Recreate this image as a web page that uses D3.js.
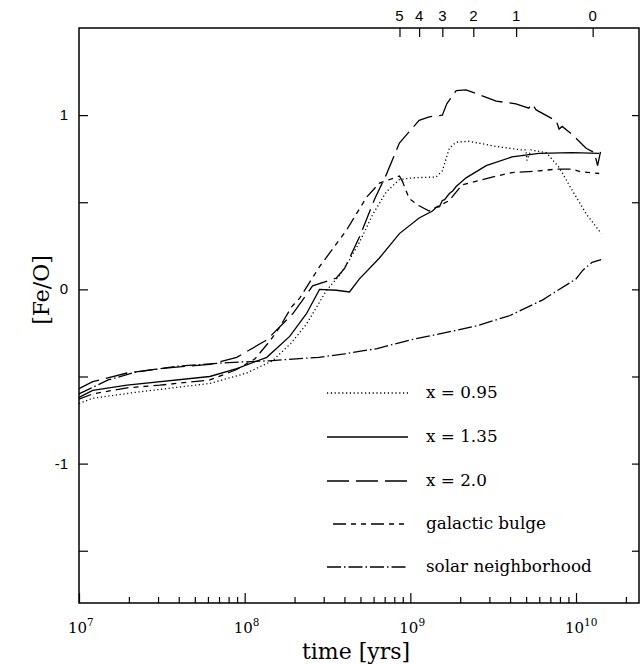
<!DOCTYPE html>
<html>
<head>
<meta charset="utf-8">
<script src="https://cdn.jsdelivr.net/npm/d3@7"></script>
<style>
  body { margin: 0; background: #fff; }
  .frame { fill: none; stroke: #000; stroke-width: 1.5; }
  .axis path { display: none; }
  .axis line { stroke: #000; stroke-width: 1.2; }
  .curve { fill: none; stroke: #000; stroke-width: 1.3; }
</style>
</head>
<body>
<svg id="chart" width="642" height="665"></svg>
<script>
// x = 0.95 (dotted)
var tDot = [1e7, 1.21e7, 2.23e7, 6.16e7, 1.03e8, 1.47e8, 1.9e8, 2.36e8, 3.12e8, 3.74e8, 4.29e8, 4.93e8, 5.93e8, 7.17e8, 8.59e8, 1.03e9, 1.43e9, 1.56e9, 1.72e9, 1.89e9, 2.26e9, 3.3e9, 4.71e9, 4.98e9, 5.05e9, 5.34e9, 6.61e9, 7.9e9, 9.46e9, 1.15e10, 1.42e10];
var vDot = [-0.655, -0.625, -0.59, -0.54, -0.48, -0.41, -0.31, -0.20, -0.005, 0.08, 0.17, 0.27, 0.43, 0.56, 0.63, 0.64, 0.645, 0.68, 0.81, 0.845, 0.85, 0.82, 0.80, 0.80, 0.74, 0.80, 0.785, 0.70, 0.57, 0.435, 0.32];

// x = 1.35 (solid)
var tSolid = [1e7, 1.21e7, 1.95e7, 6.16e7, 8.96e7, 1.36e8, 1.87e8, 2.36e8, 2.83e8, 3.58e8, 4.29e8, 4.93e8, 6.51e8, 8.59e8, 1.13e9, 1.36e9, 1.43e9, 1.5e9, 1.56e9, 1.61e9, 1.72e9, 1.8e9, 1.89e9, 2.17e9, 2.87e9, 4.11e9, 5.98e9, 9.46e9, 1.38e10];
var vSolid = [-0.62, -0.58, -0.55, -0.50, -0.455, -0.39, -0.27, -0.14, 0.0, -0.005, -0.015, 0.06, 0.18, 0.32, 0.41, 0.45, 0.47, 0.475, 0.51, 0.515, 0.55, 0.565, 0.59, 0.64, 0.71, 0.76, 0.78, 0.785, 0.78];

// x = 2.0 (long dash)
var tLong = [1e7, 1.21e7, 1.95e7, 3.07e7, 6.16e7, 8.96e7, 1.36e8, 1.95e8, 2.36e8, 2.57e8, 3.58e8, 4.01e8, 4.93e8, 6.1e8, 7.17e8, 8.59e8, 1.13e9, 1.3e9, 1.56e9, 1.66e9, 1.89e9, 2.17e9, 3.3e9, 4.34e9, 5.19e9, 5.41e9, 5.75e9, 7.17e9, 7.59e9, 7.9e9, 8.25e9, 9.46e9, 1.15e10, 1.29e10, 1.35e10, 1.42e10];
var vLong = [-0.57, -0.53, -0.48, -0.455, -0.43, -0.39, -0.29, -0.14, -0.03, 0.02, 0.065, 0.12, 0.30, 0.52, 0.66, 0.84, 0.97, 0.99, 1.0, 1.065, 1.14, 1.145, 1.08, 1.065, 1.04, 1.065, 1.03, 0.98, 0.97, 0.92, 0.935, 0.89, 0.81, 0.785, 0.71, 0.81];

// galactic bulge
var tBulge = [1e7, 1.21e7, 1.95e7, 3.07e7, 6.16e7, 8.96e7, 1.15e8, 1.41e8, 1.62e8, 1.92e8, 2.15e8, 2.83e8, 4.12e8, 5.45e8, 6.51e8, 8.59e8, 8.96e8, 9.48e8, 9.85e8, 1.13e9, 1.3e9, 1.36e9, 1.72e9, 2.05e9, 2.61e9, 3.3e9, 4.11e9, 5.98e9, 7.59e9, 9.46e9, 1.07e10, 1.38e10];
var vBulge = [-0.63, -0.60, -0.565, -0.55, -0.52, -0.46, -0.40, -0.30, -0.22, -0.10, -0.05, 0.13, 0.34, 0.53, 0.61, 0.65, 0.62, 0.56, 0.52, 0.48, 0.45, 0.46, 0.51, 0.60, 0.625, 0.65, 0.67, 0.68, 0.69, 0.69, 0.675, 0.665];

// solar neighborhood
var tSolar = [1e7, 1.5e7, 2.2e7, 4e7, 8e7, 1.4e8, 2.8e8, 4e8, 6.3e8, 1e9, 1.6e9, 2.5e9, 4e9, 6.3e9, 1e10, 1.1e10, 1.25e10, 1.42e10];
var vSolar = [-0.60, -0.52, -0.475, -0.44, -0.42, -0.41, -0.39, -0.37, -0.34, -0.29, -0.25, -0.21, -0.15, -0.06, 0.06, 0.11, 0.155, 0.17];

var legendLabels = ["x = 0.95", "x = 1.35", "x = 2.0", "galactic bulge", "solar neighborhood"];
var dashes = ["1.2,2.6", null, "22,7", "13,5,5,5,5,5", "14,3,1.5,3"];

// redshift marks along the top
var zLabels = ["5", "4", "3", "2", "1", "0"];
var zTimes = [8.6e8, 1.13e9, 1.56e9, 2.4e9, 4.35e9, 1.26e10];

var xMajor = [1e7, 1e8, 1e9, 1e10];
var yMajor = [-1, 0, 1];
var yMinor = [-1.5, -0.5, 0.5];

(function() {
var svg = d3.select("#chart");
var mLeft = 79, mRight = 639, mTop = 28, mBottom = 603;

var x = d3.scaleLog().domain([1e7, 2.4e10]).range([mLeft, mRight]);
var y = d3.scaleLinear().domain([-1.8, 1.5]).range([mBottom, mTop]);

// minor log ticks 2..9 per decade
var xMinor = [];
xMajor.forEach(function(d) {
    for (var k = 2; k <= 9; k++) if (d * k < 2.4e10) xMinor.push(d * k);
});

svg.append("g").attr("class", "axis")
    .attr("transform", "translate(0," + mBottom + ")")
    .call(d3.axisBottom(x).tickValues(xMinor).tickSize(-6).tickFormat(""));
svg.append("g").attr("class", "axis")
    .attr("transform", "translate(0," + mBottom + ")")
    .call(d3.axisBottom(x).tickValues(xMajor).tickSize(-10).tickFormat(""));

var xlab = svg.append("g");
xMajor.forEach(function(d) {
    var t = xlab.append("text")
        .attr("x", x(d) - 11).attr("y", 633)
        .attr("font-family", "DejaVu Serif").attr("font-size", 15);
    t.append("tspan").text("10");
    t.append("tspan").attr("dy", -7).attr("font-size", 10.5).text(Math.round(Math.log10(d)));
});

svg.append("g").attr("class", "axis")
    .attr("transform", "translate(0," + mTop + ")")
    .call(d3.axisTop(x).tickValues(zTimes).tickSize(-9).tickFormat(""));
zTimes.forEach(function(d, i) {
    svg.append("text").attr("x", x(d)).attr("y", 21)
        .attr("text-anchor", "middle")
        .attr("font-family", "Liberation Sans, Arial").attr("font-size", 15)
        .text(zLabels[i]);
});

svg.append("g").attr("class", "axis")
    .attr("transform", "translate(" + mLeft + ",0)")
    .call(d3.axisLeft(y).tickValues(yMajor.concat(yMinor)).tickSize(-9).tickFormat(""));
svg.append("g").attr("class", "axis")
    .attr("transform", "translate(" + mRight + ",0)")
    .call(d3.axisRight(y).tickValues(yMajor.concat(yMinor)).tickSize(-7).tickFormat(""));
yMajor.forEach(function(d) {
    svg.append("text").attr("x", 68).attr("y", y(d) + 5)
        .attr("text-anchor", "end")
        .attr("font-family", "Liberation Sans, Arial").attr("font-size", 15)
        .text(d);
});

svg.append("rect").attr("class", "frame")
    .attr("x", mLeft).attr("y", mTop)
    .attr("width", mRight - mLeft).attr("height", mBottom - mTop);

svg.append("text").attr("x", 356).attr("y", 659)
    .attr("text-anchor", "middle")
    .attr("font-family", "DejaVu Serif").attr("font-size", 22)
    .text("time [yrs]");
svg.append("text")
    .attr("transform", "translate(49,290) rotate(-90)")
    .attr("text-anchor", "middle")
    .attr("font-family", "DejaVu Serif").attr("font-size", 22)
    .text("[Fe/O]");

var series = [[tDot, vDot], [tSolid, vSolid], [tLong, vLong], [tBulge, vBulge], [tSolar, vSolar]];
var line = d3.line()
    .x(function(d) { return x(d[0]); })
    .y(function(d) { return y(d[1]); });

series.forEach(function(s, i) {
    var pts = d3.zip(s[0], s[1]);
    svg.append("path").attr("class", "curve")
        .attr("d", line(pts))
        .attr("stroke-dasharray", dashes[i]);
});

// legend
var legY = [393, 437, 481, 524, 567];
legendLabels.forEach(function(lab, i) {
    svg.append("line")
        .attr("x1", i == 3 ? 333 : 327).attr("x2", 408)
        .attr("y1", legY[i]).attr("y2", legY[i])
        .attr("class", "curve")
        .attr("stroke-dasharray", dashes[i]);
    svg.append("text").attr("x", 426).attr("y", legY[i] + 5)
        .attr("font-family", "DejaVu Serif").attr("font-size", 16.8)
        .text(lab);
});
})();
</script>
</body>
</html>
